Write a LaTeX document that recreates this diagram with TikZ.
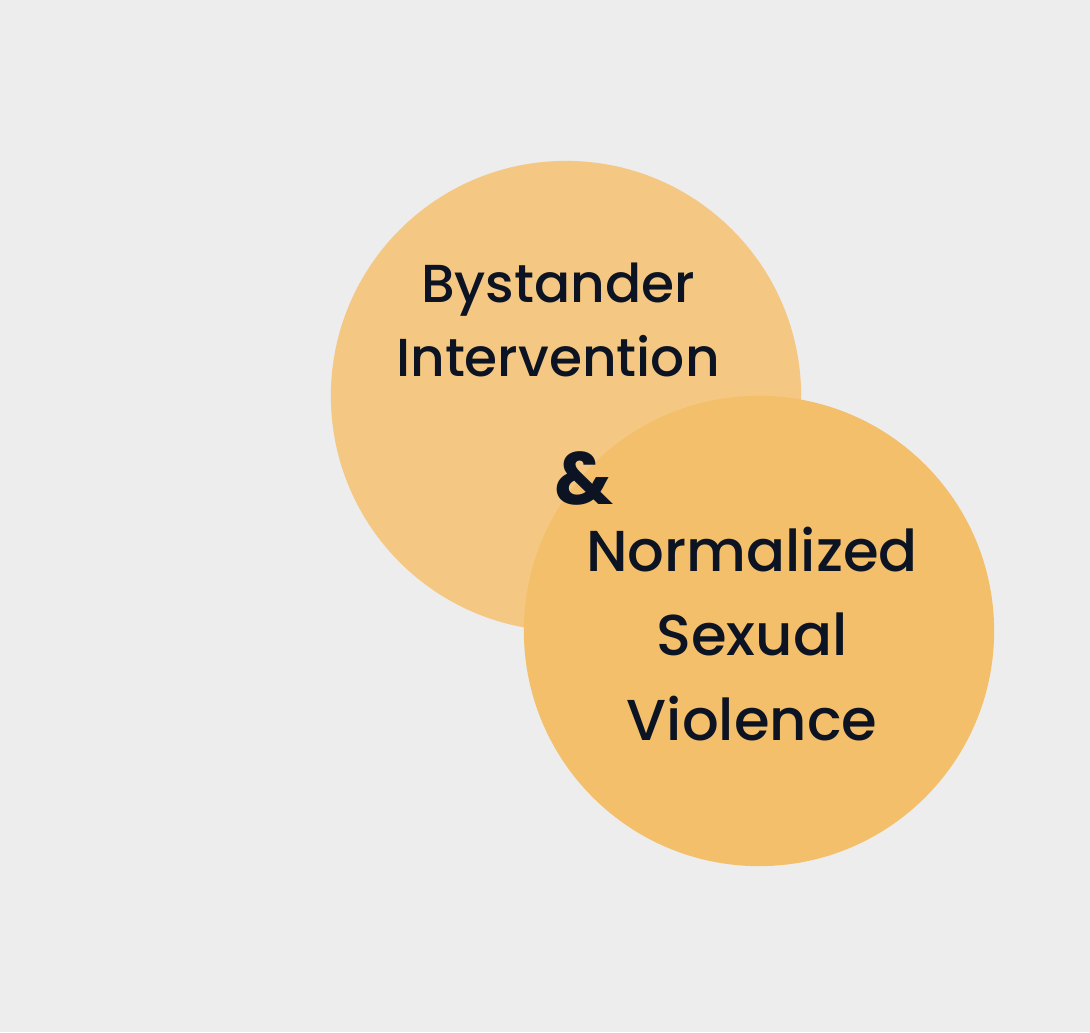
\documentclass[tikz,border=0pt]{standalone}
\usepackage{fontspec}
\setmainfont{Poppins}[UprightFont=* Medium, BoldFont=* Bold]
\usepackage{tikz}
\usetikzlibrary{positioning}
\definecolor{bgcol}{HTML}{EDEDED}
\definecolor{topiccol}{HTML}{F4C782}
\definecolor{issuecol}{HTML}{F4BF6B}
\definecolor{inkcol}{HTML}{0C1322}
\tikzset{
  topic/.style={circle, minimum size=4.7cm, inner sep=0pt},
  words/.style={text=inkcol, align=center, font=\fontsize{15.2}{21}\selectfont},
}

\begin{document}
\begin{tikzpicture}[x=0.01cm, y=-0.01cm]
                        \useasboundingbox (0, 0) rectangle (1090, 1032);
                        \fill[bgcol] (0, 0) rectangle (1090, 1032);
                        \node[topic, fill=topiccol] (bi) at (566, 396) {};
                        \node[topic, fill=issuecol] (nsv) at (759, 631) {};
                        \node[words] (bitext) at (558, 320) {Bystander\\Intervention};
                        \node[words, font=\fontsize{16.4}{24}\selectfont] (nsvtext) at (752, 634) {Normalized\\Sexual\\Violence};
                        \node[text=inkcol, font=\bfseries\fontsize{21}{21}\selectfont] (amp) at (584, 478) {\&};
                    \end{tikzpicture}
\end{document}
